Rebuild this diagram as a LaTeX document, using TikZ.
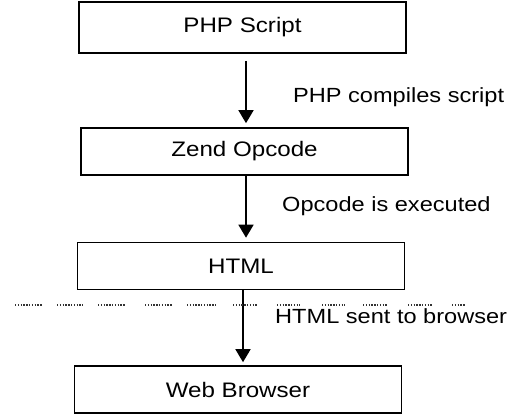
\documentclass[tikz,border=0pt]{standalone}
\usepackage{fontspec}
\setmainfont{Liberation Sans}[FakeStretch=1.15]
\usetikzlibrary{arrows.meta}
\begin{document}
\begin{tikzpicture}[x=1pt,y=-1pt,
  box/.style={draw=black,line width=1.6pt,minimum width=327pt,minimum height=47pt,inner sep=0pt,
    font=\fontsize{21}{24}\selectfont},
  lbl/.style={anchor=west,inner sep=0pt,font=\fontsize{20.5}{24}\selectfont},
  arr/.style={draw=black,line width=1.6pt,-{Triangle[width=15pt,length=13pt]}},
  sep/.style={draw=black!80,line width=1.5pt,dash pattern=on 1.3pt off 1.5pt}]
\useasboundingbox (0,0) rectangle (513,419);
\node[box,minimum height=51pt] (b1) at (242.5,27.5) {PHP Script};
\node[box] (b2) at (244.5,151.5) {Zend Opcode};
\node[box] (b3) at (241,266) {HTML};
\node[box] (b4) at (238,389.5) {Web Browser};
\draw[arr] ([xshift=3.5pt,yshift=-7pt]b1.south) -- ([xshift=1.5pt,yshift=4pt]b2.north);
\draw[arr] ([xshift=1.5pt]b2.south) -- ([xshift=5pt,yshift=4pt]b3.north);
\draw[arr] ([xshift=2pt]b3.south) -- ([xshift=5pt,yshift=3pt]b4.north);
\node[lbl] (l1) at (293,97) {PHP compiles script};
\node[lbl] (l2) at (282,206) {Opcode is executed};
\node[lbl] (l3) at (275,316) {HTML sent to browser};
\foreach \x/\w in {15/27,57/26,98/27,145/27,187/30,233/24,277/23,322/23,363/25,408/25,452/13}
  \draw[sep] (\x,305) -- ++(\w,0);
\end{tikzpicture}
\end{document}
